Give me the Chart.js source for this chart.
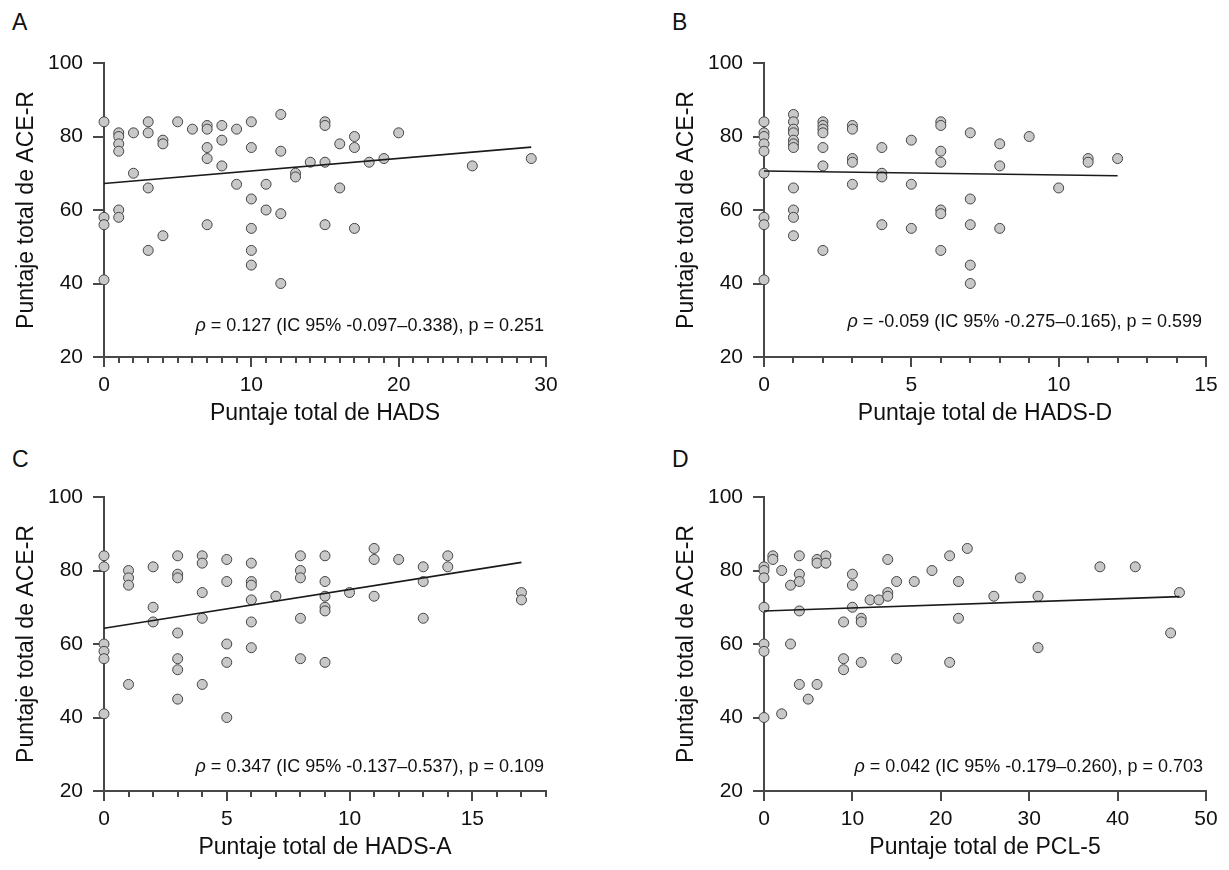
<!DOCTYPE html>
<html>
<head>
<meta charset="utf-8">
<script src="https://cdn.jsdelivr.net/npm/chart.js@4.4.1/dist/chart.umd.min.js"></script>
<style>
  body { margin: 0; background: #fff; width: 1229px; height: 870px; position: relative; overflow: hidden;
         font-family: "Liberation Sans", Arial, sans-serif; color: #111; }
  canvas { position: absolute; }
  .letter { position: absolute; font-size: 23px; line-height: 23px; }
  .stat { position: absolute; font-size: 18px; line-height: 18px; width: 430px; text-align: right; white-space: nowrap; }
</style>
</head>
<body>
<div class="letter" style="left:12px;top:11px">A</div>
<div class="letter" style="left:672px;top:11px">B</div>
<div class="letter" style="left:12px;top:448px">C</div>
<div class="letter" style="left:672px;top:448px">D</div>

<canvas id="chartA" width="569" height="435" style="left:0;top:0"></canvas>
<canvas id="chartB" width="569" height="435" style="left:660px;top:0"></canvas>
<canvas id="chartC" width="569" height="435" style="left:0;top:434px"></canvas>
<canvas id="chartD" width="569" height="435" style="left:660px;top:434px"></canvas>

<div class="stat" style="left:114px;top:316px"><i>ρ</i> = 0.127 (IC 95% -0.097–0.338), p = 0.251</div>
<div class="stat" style="left:772px;top:312px"><i>ρ</i> = -0.059 (IC 95% -0.275–0.165), p = 0.599</div>
<div class="stat" style="left:114px;top:757px"><i>ρ</i> = 0.347 (IC 95% -0.137–0.537), p = 0.109</div>
<div class="stat" style="left:773px;top:757px"><i>ρ</i> = 0.042 (IC 95% -0.179–0.260), p = 0.703</div>

<script>
// A: HADS total vs ACE-R
const hadsX = [0,0,0,0, 1,1,1,1,1,1, 2,2, 3,3,3,3, 4,4,4, 5, 6, 7,7,7,7,7, 8,8,8, 9,9,
  10,10,10,10,10,10, 11,11, 12,12,12,12, 13,13, 14, 15,15,15,15, 16,16, 17,17,17, 18, 19, 20, 25, 29];
const hadsY = [84,58,56,41, 81,80,78,76,60,58, 81,70, 84,81,66,49, 79,78,53, 84, 82, 83,82,77,74,56, 83,79,72, 82,67,
  84,77,63,55,49,45, 67,60, 86,76,59,40, 70,69, 73, 84,83,73,56, 78,66, 80,77,55, 73, 74, 81, 72, 74];
const hadsFitX = [0, 29];
const hadsFitY = [67.2, 77.1];

// B: HADS-D
const hadsDX = [0,0,0,0,0,0,0,0,0, 1,1,1,1,1,1,1,1,1,1,1, 2,2,2,2,2,2,2, 3,3,3,3,3, 4,4,4,4, 5,5,5,
  6,6,6,6,6,6,6, 7,7,7,7,7, 8,8,8, 9, 10, 11,11, 12];
const hadsDY = [84,81,80,78,76,70,58,56,41, 86,84,82,81,79,78,77,66,60,58,53, 84,83,82,81,77,72,49, 83,82,74,73,67, 77,70,69,56, 79,67,55,
  84,83,76,73,60,59,49, 81,63,56,45,40, 78,72,55, 80, 66, 74,73, 74];
const hadsDFitX = [0, 12];
const hadsDFitY = [70.6, 69.3];

// C: HADS-A
const hadsAX = [0,0,0,0,0,0, 1,1,1,1, 2,2,2, 3,3,3,3,3,3,3, 4,4,4,4,4, 5,5,5,5,5, 6,6,6,6,6,6, 7,
  8,8,8,8,8, 9,9,9,9,9,9, 10, 11,11,11, 12, 13,13,13, 14,14, 17,17];
const hadsAY = [84,81,60,58,56,41, 80,78,76,49, 81,70,66, 84,79,78,63,56,53,45, 84,82,74,67,49, 83,77,60,55,40, 82,77,76,72,66,59, 73,
  84,80,78,67,56, 84,77,73,70,69,55, 74, 86,83,73, 83, 81,77,67, 84,81, 74,72];
const hadsAFitX = [0, 17];
const hadsAFitY = [64.3, 82.2];

// D: PCL-5
const pclX = [0,0,0,0,0,0,0, 1,1, 2,2, 3,3, 4,4,4,4,4, 5, 6,6,6, 7,7, 9,9,9, 10,10,10, 11,11,11, 12, 13,
  14,14,14, 15,15, 17, 19, 21,21, 22,22, 23, 26, 29, 31,31, 38, 42, 46, 47];
const pclY = [81,80,78,70,60,58,40, 84,83, 80,41, 76,60, 84,79,77,69,49, 45, 83,82,49, 84,82, 66,56,53, 79,76,70, 67,66,55, 72, 72,
  83,74,73, 77,56, 77, 80, 84,55, 77,67, 86, 73, 78, 73,59, 81, 81, 63, 74];
const pclFitX = [0, 47];
const pclFitY = [69.0, 72.9];

const yTicks = {min: 20, max: 100, step: 20};
const axisColor = '#484848';
const fontFamily = "'Liberation Sans', Arial, sans-serif";

function makePanel(canvasId, xs, ys, fitXs, fitYs, xMax, xStep, minorStep, xTitle) {
  const points = xs.map((x, i) => ({x: x, y: ys[i]}));
  const fit = fitXs.map((x, i) => ({x: x, y: fitYs[i]}));

  const scales = {
    x: {
      type: 'linear', position: 'bottom', weight: 1,
      min: 0, max: xMax,
      afterFit: (s) => { s.height = 78; },
      border: {display: true, color: axisColor, width: 2},
      grid: {drawOnChartArea: false, drawTicks: true, tickLength: 10, color: axisColor, lineWidth: 2},
      ticks: {stepSize: xStep, includeBounds: false, autoSkip: false, maxRotation: 0, padding: 6,
              color: '#111', font: {family: fontFamily, size: 21}},
      title: {display: true, text: xTitle, color: '#111', font: {family: fontFamily, size: 23},
              padding: {top: 0, bottom: 8}}
    },
    y: {
      type: 'linear', position: 'left',
      min: yTicks.min, max: yTicks.max,
      afterFit: (s) => { s.width = 104; },
      border: {display: true, color: axisColor, width: 2},
      grid: {drawOnChartArea: false, drawTicks: true, tickLength: 11, color: axisColor, lineWidth: 2},
      ticks: {stepSize: yTicks.step, padding: 10, color: '#111', font: {family: fontFamily, size: 21}},
      title: {display: true, text: 'Puntaje total de ACE-R', color: '#111', font: {family: fontFamily, size: 23},
              padding: {top: 13, bottom: 0}}
    }
  };
  // minor ticks every unit, drawn by a second x scale of zero height
  if (minorStep) {
    scales.xm = {
      type: 'linear', position: 'bottom', weight: 0,
      min: 0, max: xMax,
      afterFit: (s) => { s.height = 0; },
      border: {display: false},
      grid: {drawOnChartArea: false, drawTicks: true, tickLength: 6, color: axisColor, lineWidth: 2},
      ticks: {stepSize: minorStep, display: false, autoSkip: false},
      title: {display: false}
    };
  }

  new Chart(document.getElementById(canvasId), {
    type: 'scatter',
    data: {
      datasets: [
        {
          type: 'line', data: fit, order: 0,
          borderColor: '#1a1a1a', borderWidth: 1.6, pointRadius: 0, fill: false, clip: false
        },
        {
          data: points, order: 1,
          backgroundColor: '#c8c8c8', borderColor: '#444', borderWidth: 1,
          pointRadius: 5, pointHoverRadius: 5, clip: false
        }
      ]
    },
    options: {
      responsive: false,
      animation: false,
      layout: {padding: {top: 63, right: 23, left: 0, bottom: 0}},
      plugins: {legend: {display: false}, tooltip: {enabled: false}},
      scales: scales
    }
  });
}

makePanel('chartA', hadsX, hadsY, hadsFitX, hadsFitY, 30, 10, 1, 'Puntaje total de HADS');
makePanel('chartB', hadsDX, hadsDY, hadsDFitX, hadsDFitY, 15, 5, 1, 'Puntaje total de HADS-D');
makePanel('chartC', hadsAX, hadsAY, hadsAFitX, hadsAFitY, 18, 5, 1, 'Puntaje total de HADS-A');
makePanel('chartD', pclX, pclY, pclFitX, pclFitY, 50, 10, 0, 'Puntaje total de PCL-5');
</script>
</body>
</html>
